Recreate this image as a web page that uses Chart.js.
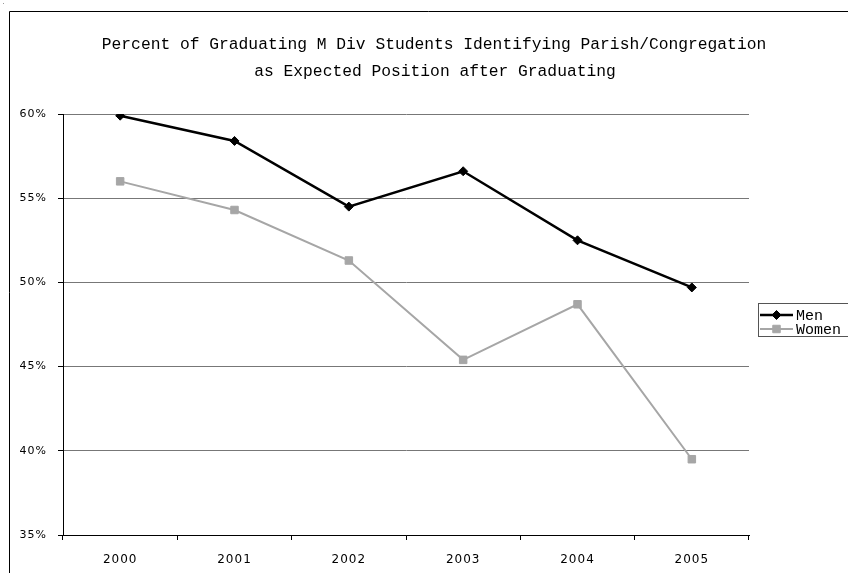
<!DOCTYPE html>
<html>
<head>
<meta charset="utf-8">
<script src="https://cdn.jsdelivr.net/npm/chart.js@4/dist/chart.umd.min.js"></script>
<style>
  html, body { margin: 0; padding: 0; background: #fff; overflow: hidden; }
  #wrap { width: 848px; height: 573px; position: relative; }
</style>
</head>
<body>
<div id="wrap"><canvas id="c" width="848" height="573"></canvas></div>
<script>
const titleLines = [
  "Percent of Graduating M Div Students Identifying Parish/Congregation",
  "as Expected Position after Graduating"
];
const years = ["2000", "2001", "2002", "2003", "2004", "2005"];
const menValues = [59.9, 58.4, 54.5, 56.6, 52.5, 49.7];
const womenValues = [56.0, 54.3, 51.3, 45.4, 48.7, 39.5];
const yTicks = [35, 40, 45, 50, 55, 60];
const seriesNames = ["Men", "Women"];

const spacing = {
  id: 'spacing',
  beforeDraw(chart) { chart.ctx.letterSpacing = '1px'; },
  afterDatasetsDraw(chart) { chart.ctx.letterSpacing = '0px'; }
};

const decor = {
  id: 'decor',
  afterDraw(chart) {
    const ctx = chart.ctx;
    ctx.save();
    ctx.letterSpacing = '0px';
    ctx.fillStyle = '#999';
    ctx.fillRect(3, 3, 1, 1);
    // outer chart border (right/bottom lie outside the picture)
    ctx.strokeStyle = '#000';
    ctx.lineWidth = 1;
    ctx.beginPath();
    ctx.moveTo(9.5, 573);
    ctx.lineTo(9.5, 11.5);
    ctx.lineTo(848, 11.5);
    ctx.stroke();
    // title
    ctx.fillStyle = '#000';
    ctx.font = '16.3px "Liberation Mono", monospace';
    ctx.textAlign = 'center';
    ctx.textBaseline = 'middle';
    ctx.fillText(titleLines[0], 434, 45);
    ctx.fillText(titleLines[1], 435, 72);
    // legend
    const lx = 758.5, ly = 303.5, lw = 100, lh = 33;
    ctx.strokeStyle = '#555';
    ctx.lineWidth = 1;
    ctx.strokeRect(lx, ly, lw, lh);
    const rows = [315, 329];
    chart.data.datasets.forEach((ds, i) => {
      const y = rows[i];
      ctx.strokeStyle = ds.borderColor;
      ctx.lineWidth = ds.borderWidth;
      ctx.beginPath();
      ctx.moveTo(760, y);
      ctx.lineTo(793, y);
      ctx.stroke();
      ctx.fillStyle = ds.pointBackgroundColor;
      ctx.strokeStyle = ds.pointBorderColor;
      ctx.lineWidth = 1;
      Chart.helpers.drawPoint(ctx, {
        pointStyle: ds.pointStyle,
        radius: ds.pointRadius,
        borderWidth: 1,
        rotation: 0
      }, 776.5, y);
      ctx.fillStyle = '#000';
      ctx.font = '15px "Liberation Mono", monospace';
      ctx.textAlign = 'left';
      ctx.textBaseline = 'middle';
      ctx.fillText(ds.label, 796, y + 1);
    });
    ctx.restore();
  }
};

new Chart(document.getElementById('c'), {
  type: 'line',
  data: {
    labels: years,
    datasets: [
      {
        label: seriesNames[0],
        data: menValues,
        borderColor: '#000000',
        borderWidth: 2.5,
        pointStyle: 'rectRot',
        pointRadius: 4.5,
        pointBackgroundColor: '#000000',
        pointBorderColor: '#000000',
        pointBorderWidth: 1,
        tension: 0
      },
      {
        label: seriesNames[1],
        data: womenValues,
        borderColor: '#a6a6a6',
        borderWidth: 2,
        pointStyle: 'rect',
        pointRadius: 5.3,
        pointBackgroundColor: '#a6a6a6',
        pointBorderColor: '#a6a6a6',
        pointBorderWidth: 1,
        tension: 0
      }
    ]
  },
  options: {
    responsive: false,
    animation: false,
    devicePixelRatio: 1,
    layout: { padding: { left: 13, top: 114, right: 99, bottom: 8 } },
    plugins: {
      legend: { display: false },
      title: { display: false },
      tooltip: { enabled: false }
    },
    scales: {
      x: {
        type: 'category',
        offset: true,
        afterFit: s => { s.height = 30; },
        grid: {
          offset: true,
          drawOnChartArea: false,
          drawTicks: true,
          tickLength: 5,
          tickColor: '#000'
        },
        border: { color: '#000', width: 1 },
        ticks: {
          color: '#000',
          padding: 13,
          font: { family: '"DejaVu Sans", sans-serif', size: 12 }
        }
      },
      y: {
        min: 35,
        max: 60,
        afterFit: s => { s.width = 50; },
        afterBuildTicks: s => { s.ticks = yTicks.map(v => ({ value: v })); },
        grid: {
          color: c => (c.tick && c.tick.value === 35) ? '#000' : '#777777',
          lineWidth: 1,
          drawTicks: true,
          tickLength: 5,
          tickColor: '#000'
        },
        border: { color: '#000', width: 1 },
        ticks: {
          color: '#000',
          padding: 11,
          font: { family: '"DejaVu Sans", sans-serif', size: 11 },
          callback: v => v + '%'
        }
      }
    }
  },
  plugins: [spacing, decor]
});
</script>
</body>
</html>
